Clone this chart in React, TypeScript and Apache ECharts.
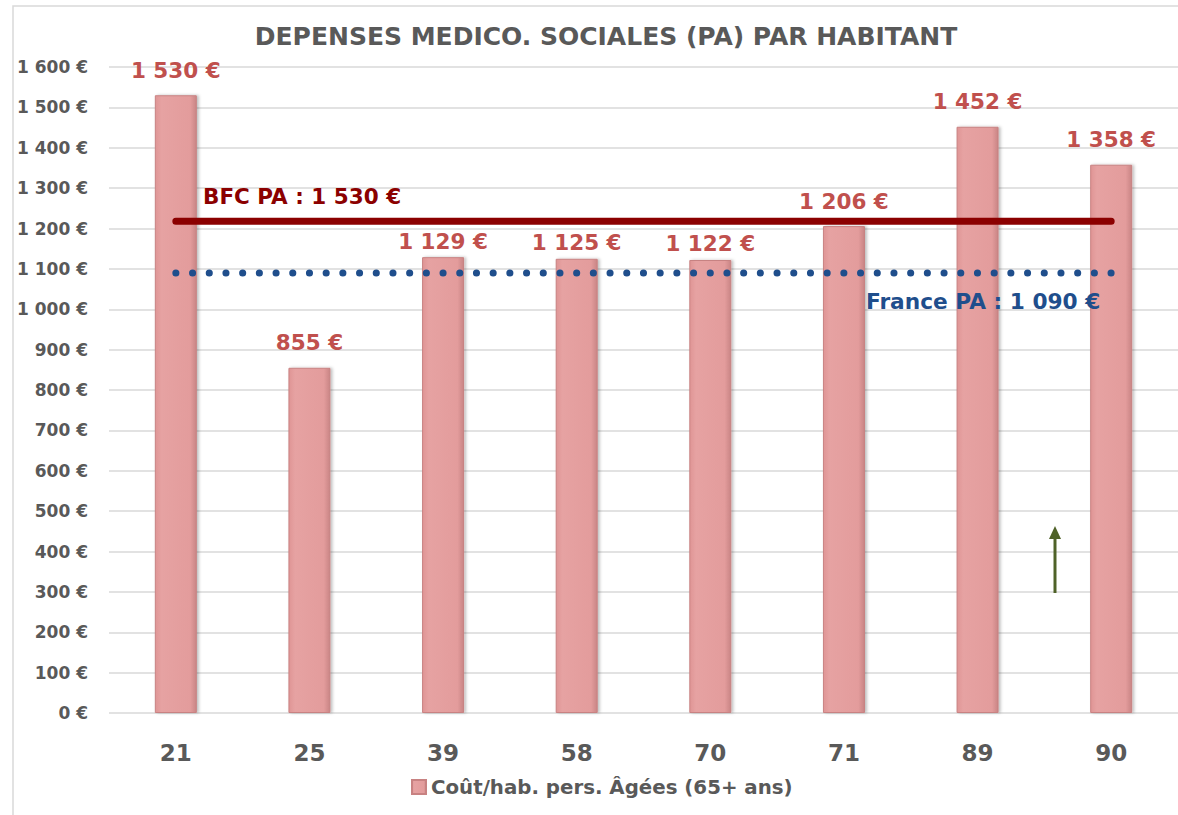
import React, { useEffect, useRef } from "react";
import * as echarts from "echarts";

const categories = ["21", "25", "39", "58", "70", "71", "89", "90"];
const costPerInhabitant = [1530, 855, 1129, 1125, 1122, 1206, 1452, 1358];
const bfcLevel = 1218;
const franceLevel = 1090;
const yTicks = { min: 0, max: 1600, interval: 100 };
const titleText = "DEPENSES MEDICO. SOCIALES (PA) PAR HABITANT";
const legendName = "Coût/hab. pers. Âgées (65+ ans)";
const bfcLabel = "BFC PA : 1 530 €";
const franceLabel = "France PA : 1 090 €";

const fmt = (v: number) => {
  const s = String(Math.round(v));
  return s.replace(/\B(?=(\d{3})+(?!\d))/g, " ") + " €";
};

const FONT = "'DejaVu Sans', sans-serif";
// labels that sit closer to their bar (under the BFC line)
const closeLabelCats = ["39", "58", "70"];

export default function App() {
  const ref = useRef<HTMLDivElement>(null);
  useEffect(() => {
    if (!ref.current) return;
    const chart = echarts.init(ref.current, undefined, { renderer: "svg" });
    const barData = costPerInhabitant.map((v, i) => ({
      value: v,
      label: { distance: closeLabelCats.includes(categories[i]) ? 5 : 14 },
    }));
    chart.setOption({
      animation: false,
      backgroundColor: "#ffffff",
      title: {
        text: titleText,
        left: 601,
        textAlign: "center",
        top: 19,
        textStyle: { fontFamily: FONT, fontSize: 25, fontWeight: "bold", color: "#595959" },
      },
      legend: {
        data: [{ name: legendName, icon: "rect" }],
        left: 406,
        top: 772,
        itemWidth: 14,
        itemHeight: 14,
        itemGap: 7,
        textStyle: { fontFamily: FONT, fontSize: 19.8, fontWeight: "bold", color: "#595959" },
      },
      grid: { left: 109, top: 67, width: 1072, bottom: 102, containLabel: false },
      xAxis: {
        type: "category",
        data: categories,
        axisLine: { show: false },
        axisTick: { show: false },
        axisLabel: {
          margin: 28,
          fontFamily: FONT,
          fontSize: 23,
          fontWeight: "bold",
          color: "#595959",
        },
      },
      yAxis: {
        type: "value",
        min: yTicks.min,
        max: yTicks.max,
        interval: yTicks.interval,
        axisLine: { show: false },
        axisTick: { show: false },
        splitLine: { lineStyle: { color: "#d9d9d9", width: 1.5 } },
        axisLabel: {
          margin: 21,
          fontFamily: FONT,
          fontSize: 17,
          fontWeight: "bold",
          color: "#595959",
          formatter: (v: number) => fmt(v),
        },
      },
      series: [
        {
          name: legendName,
          type: "bar",
          data: barData,
          barWidth: 42,
          itemStyle: {
            color: new echarts.graphic.LinearGradient(0, 0, 1, 0, [
              { offset: 0, color: "#df9595" },
              { offset: 0.15, color: "#e6a2a2" },
              { offset: 0.85, color: "#e39c9c" },
              { offset: 1, color: "#c98585" },
            ]),
            borderColor: "#c88282",
            borderWidth: 1,
            shadowColor: "rgba(0,0,0,0.25)",
            shadowBlur: 3,
            shadowOffsetX: 2,
            shadowOffsetY: 0,
          },
          label: {
            show: true,
            position: "top",
            distance: 14,
            fontFamily: FONT,
            fontSize: 21.5,
            fontWeight: "bold",
            color: "#c0504d",
            formatter: (p: any) => fmt(p.value),
          },
          z: 2,
        },
        {
          name: "France",
          type: "line",
          data: categories.map(() => franceLevel),
          symbol: "none",
          lineStyle: { color: "#1f4e8c", width: 7, type: [0.1, 16.6], cap: "round" },
          z: 3,
          silent: true,
        },
        {
          name: "BFC",
          type: "line",
          data: categories.map(() => bfcLevel),
          symbol: "none",
          lineStyle: { color: "#8b0000", width: 7, cap: "round" },
          z: 4,
          silent: true,
        },
      ],
      graphic: [
        {
          type: "rect",
          shape: { x: 13, y: 6, width: 1180, height: 820 },
          style: { fill: "none", stroke: "#d9d9d9", lineWidth: 1.5 },
          silent: true,
          z: -1,
        },
        {
          type: "text",
          x: 203,
          y: 196,
          z: 100,
          style: {
            text: bfcLabel,
            fontFamily: FONT,
            fontSize: 21.5,
            fontWeight: "bold",
            fill: "#8b0000",
            verticalAlign: "middle",
          },
        },
        {
          type: "text",
          x: 866,
          y: 301,
          z: 100,
          style: {
            text: franceLabel,
            fontFamily: FONT,
            fontSize: 21.7,
            fontWeight: "bold",
            fill: "#1f4e8c",
            verticalAlign: "middle",
          },
        },
        {
          type: "line",
          z: 100,
          shape: { x1: 1055, y1: 593, x2: 1055, y2: 538 },
          style: { stroke: "#4f6228", lineWidth: 3 },
        },
        {
          type: "polygon",
          z: 100,
          shape: { points: [[1055, 526], [1049, 539], [1061, 539]] },
          style: { fill: "#4f6228" },
        },
      ],
    });
    return () => chart.dispose();
  }, []);
  return (
    <div
      ref={ref}
      style={{ position: "absolute", left: 0, top: 0, width: 1178, height: 815 }}
    />
  );
}
